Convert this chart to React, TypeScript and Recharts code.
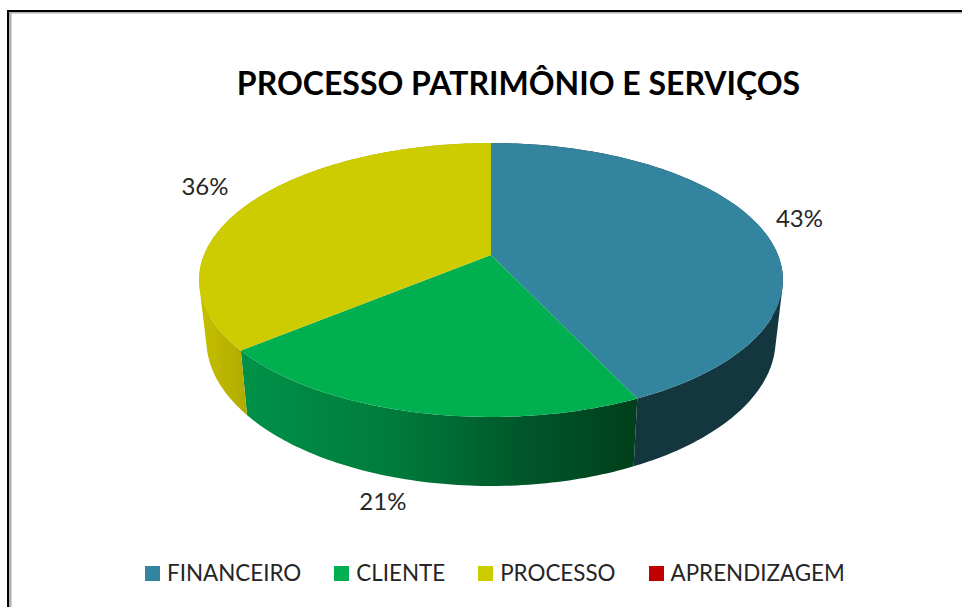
import { PieChart, Pie, Legend } from 'recharts'

const categories = ['FINANCEIRO', 'CLIENTE', 'PROCESSO', 'APRENDIZAGEM']
const shares = [43, 21, 36, 0]
const topColors = ['#33849f', '#00b050', '#cccc00', '#c00000']
const wallColors = ['#14363f', 'url(#wallGreen)', 'url(#wallYellow)', '#600000']
const labelNudges = [
  [39, -10],
  [-32, 88],
  [-45, -17],
  [0, 0],
]

const rows = categories.map((name, i) => ({ name, value: shares[i], fill: topColors[i] }))

const FONT = 'Lato, sans-serif'
const PIE_CX = 491
const PIE_CY = 280
const PIE_R = 292

// perspective of the tilted disc, fitted by eye against the picture
const SQUASH = 0.469
const TILT = 0.182
const WIDTH_FIX = 0.983
const BASE_X_SCALE = 0.975
const BASE_Y_SCALE = 1.066
const BASE_DROP = 60

function project(cx: number, cy: number, r: number, clockDeg: number, base = false) {
  const t = (clockDeg * Math.PI) / 180
  const u = Math.sin(t)
  const v = -Math.cos(t)
  const den = 1 - TILT * v
  const px = (r * WIDTH_FIX * u) / den
  const py = (r * SQUASH * (v - TILT)) / den
  if (base) return [cx + BASE_X_SCALE * px, cy + BASE_DROP + BASE_Y_SCALE * py]
  return [cx + px, cy + py]
}

function arcPoints(cx: number, cy: number, r: number, from: number, to: number, base = false) {
  const pts: number[][] = []
  const steps = Math.max(2, Math.ceil(to - from))
  for (let i = 0; i <= steps; i++) {
    pts.push(project(cx, cy, r, from + ((to - from) * i) / steps, base))
  }
  return pts
}

function toPath(pts: number[][]) {
  return 'M' + pts.map(p => `${p[0].toFixed(2)},${p[1].toFixed(2)}`).join('L') + 'Z'
}

// wall as one path of same-wound quads, so the side silhouette fills in too
function wallPath(top: number[][], base: number[][]) {
  let d = ''
  for (let i = 0; i < top.length - 1; i++) {
    const quad = [top[i], top[i + 1], base[i + 1], base[i]]
    let area = 0
    quad.forEach((p, j) => {
      const q = quad[(j + 1) % 4]
      area += p[0] * q[1] - q[0] * p[1]
    })
    d += toPath(area < 0 ? quad.reverse() : quad)
  }
  return d
}

function Slice3D(props: any) {
  const { cx, cy, outerRadius, startAngle, endAngle, fill, index } = props
  if (Math.abs(endAngle - startAngle) < 0.01) return null
  const from = 90 - startAngle
  const to = 90 - endAngle
  const top = arcPoints(cx, cy, outerRadius, from, to)
  const base = arcPoints(cx, cy, outerRadius, from, to, true)
  const hub = [cx, cy - outerRadius * SQUASH * TILT]
  return (
    <g>
      <path d={wallPath(top, base)} fill={wallColors[index]} />
      <path d={toPath([hub, ...top])} fill={fill} />
    </g>
  )
}

function renderShare(props: any) {
  const { cx, cy, outerRadius, midAngle, value, index } = props
  if (!value) return null
  const [x, y] = project(cx, cy, outerRadius, 90 - midAngle)
  return (
    <text
      x={x + labelNudges[index][0]}
      y={y + labelNudges[index][1]}
      textAnchor="middle"
      dominantBaseline="central"
      fontFamily={FONT}
      fontSize={24}
      fill="#262626"
    >
      {value}%
    </text>
  )
}

function LegendRow({ payload }: any) {
  return (
    <div style={{ display: 'flex', justifyContent: 'flex-start', paddingLeft: 145, gap: 33 }}>
      {(payload || []).map((item: any) => (
        <div key={item.value} style={{ display: 'flex', alignItems: 'center', gap: 7 }}>
          <div style={{ width: 15, height: 15, background: item.color }} />
          <span style={{ fontFamily: FONT, fontSize: 22.4, color: '#262626', lineHeight: '28px' }}>{item.value}</span>
        </div>
      ))}
    </div>
  )
}

export default function App() {
  return (
    <div style={{ position: 'absolute', left: 0, top: 0, width: 962, height: 607, overflow: 'hidden', background: '#fff' }}>
      <div
        style={{
          position: 'absolute',
          left: 7,
          top: 10,
          width: 980,
          height: 620,
          borderLeft: '2.5px solid #000',
          borderTop: '2.5px solid #000',
          boxShadow: 'inset 2.5px 1.5px 0 #b0b0b0',
        }}
      />
      <div style={{ position: 'absolute', left: 0, top: 0 }}>
        <PieChart width={962} height={607} margin={{ top: 0, right: 0, bottom: 0, left: 0 }}>
          <defs>
            <linearGradient id="wallGreen" gradientUnits="userSpaceOnUse" x1="240" y1="0" x2="637" y2="0">
              <stop offset="0" stopColor="#009248" />
              <stop offset="0.4" stopColor="#007a3a" />
              <stop offset="0.7" stopColor="#00582a" />
              <stop offset="1" stopColor="#003f1b" />
            </linearGradient>
            <linearGradient id="wallYellow" gradientUnits="userSpaceOnUse" x1="199" y1="0" x2="247" y2="0">
              <stop offset="0" stopColor="#c6c000" />
              <stop offset="1" stopColor="#b0aa00" />
            </linearGradient>
          </defs>
          <text x={518.5} y={82} textAnchor="middle" dominantBaseline="central" fontFamily={FONT} fontWeight={700} fontSize={32} fill="#000">
            PROCESSO PATRIMÔNIO E SERVIÇOS
          </text>
          <Legend
            content={<LegendRow />}
            itemSorter={null}
            verticalAlign="bottom"
            wrapperStyle={{ left: 0, bottom: 20, width: 962 }}
          />
          <Pie
            data={rows}
            dataKey="value"
            nameKey="name"
            cx={PIE_CX}
            cy={PIE_CY}
            outerRadius={PIE_R}
            startAngle={90}
            endAngle={-270}
            stroke="none"
            shape={Slice3D}
            label={renderShare}
            labelLine={false}
            isAnimationActive={false}
          />
        </PieChart>
      </div>
    </div>
  )
}
